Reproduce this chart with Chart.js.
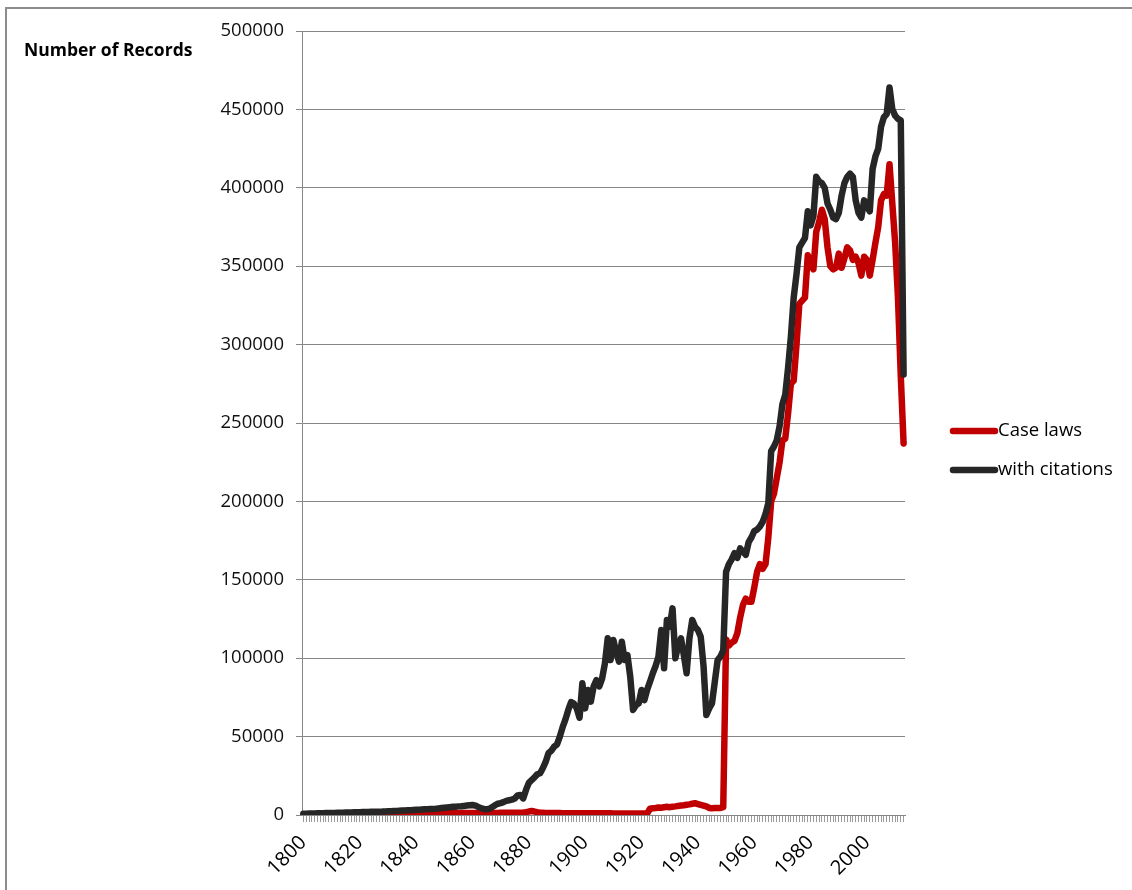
<!DOCTYPE html>
<html>
<head>
<meta charset="utf-8">
<script src="https://cdn.jsdelivr.net/npm/chart.js@4.4.1/dist/chart.umd.min.js"></script>
<style>
  html, body { margin: 0; padding: 0; background: #fff; overflow: hidden; }
  #wrap { position: relative; width: 1132px; height: 890px; overflow: hidden; }
  #lineTop { position: absolute; left: 5px; top: 7px; width: 1127px; height: 2px; background: #8c8c8c; }
  #lineLeft { position: absolute; left: 5px; top: 7px; width: 2px; height: 883px; background: #8c8c8c; }
  #box { position: absolute; left: 0; top: 0; width: 1132px; height: 890px; }
</style>
</head>
<body>
<div id="wrap">
  <div id="lineTop"></div>
  <div id="lineLeft"></div>
  <div id="box"><canvas id="myChart"></canvas></div>
</div>
<script>
const firstYear = 1800;
const lastYear = 2013;
const years = [];
for (let y = firstYear; y <= lastYear; y++) years.push(String(y));

const yTicks = [0, 50000, 100000, 150000, 200000, 250000, 300000, 350000, 400000, 450000, 500000];

// with citations (black)
const withCitations = [
  800, 850, 900, 950, 1000, 1050, 1100, 1150, 1200, 1250,
  1300, 1350, 1400, 1450, 1500, 1550, 1600, 1650, 1700, 1750,
  1800, 1850, 1900, 1950, 2000, 2050, 2100, 2150, 2200, 2300,
  2350, 2400, 2500, 2600, 2700, 2800, 2900, 3000, 3100, 3200,
  3300, 3400, 3500, 3600, 3700, 3800, 3900, 4000, 4200, 4400,
  4600, 4800, 5000, 5200, 5300, 5500, 5600, 5800, 6000, 6200,
  6400, 6000, 5200, 4400, 3800, 3600, 4000, 5000, 6200, 7200,
  7600, 8200, 9000, 9400, 9800, 10500, 12500, 12800, 10600, 16000,
  20500, 22300, 24000, 26000, 26600, 30000, 34000, 39500, 41000, 43600,
  45000, 50000, 56000, 61000, 67000, 72000, 71000, 68000, 62000, 84000,
  68000, 79700, 72300, 82000, 86000, 82000, 87000, 96700, 112700, 98800,
  111600, 104000, 97800, 110500, 98800, 102000, 88000, 67000, 70000, 71200,
  79700, 73300, 80000, 85000, 90400, 95000, 101000, 118000, 93600, 124400,
  120100, 131800, 100000, 108000, 112700, 102000, 90400, 112700, 124400, 120000,
  118000, 113700, 95000, 63800, 68000, 71200, 85000, 98800, 101000, 105000,
  155000, 160000, 163000, 167000, 164000, 170000, 168000, 166000, 174000, 177000,
  181000, 182000, 184000, 187000, 192000, 199000, 232000, 235000, 239000, 248000,
  262000, 268000, 285000, 305000, 330000, 345000, 362000, 365000, 368000, 385000,
  376000, 382000, 407000, 404000, 403000, 400000, 390000, 386000, 381000, 380000,
  384000, 395000, 403000, 407000, 409000, 407000, 392000, 384000, 381000, 392000,
  388000, 385000, 412000, 420000, 425000, 439000, 445000, 447000, 464000, 450000,
  446000, 444000, 443000, 281000
];

// case laws (red)
const caseLaws = [
  300, 300, 300, 350, 350, 350, 400, 400, 400, 450,
  450, 450, 500, 500, 500, 550, 550, 550, 600, 600,
  600, 650, 650, 650, 700, 700, 700, 750, 750, 750,
  800, 800, 850, 850, 900, 900, 950, 950, 1000, 1000,
  1000, 1050, 1050, 1100, 1100, 1100, 1150, 1150, 1200, 1200,
  1200, 1200, 1250, 1250, 1250, 1300, 1300, 1300, 1300, 1350,
  1350, 1350, 1300, 1300, 1250, 1250, 1300, 1300, 1350, 1350,
  1400, 1400, 1400, 1450, 1450, 1500, 1500, 1500, 1600, 1800,
  2200, 2500, 2200, 1800, 1500, 1400, 1300, 1300, 1200, 1200,
  1200, 1200, 1150, 1150, 1100, 1100, 1100, 1100, 1100, 1100,
  1100, 1100, 1100, 1100, 1050, 1050, 1050, 1050, 1050, 1050,
  1000, 1000, 1000, 1000, 1000, 1000, 1000, 1000, 1000, 1000,
  1000, 1000, 1000, 4000, 4300, 4500, 4800, 4600, 5000, 5200,
  5000, 5300, 5500, 5800, 6000, 6200, 6500, 6800, 7200, 7500,
  7000, 6500, 6000, 5500, 4500, 4300, 4400, 4400, 4500, 5000,
  112000, 108000, 110000, 111000, 116000, 126000, 134000, 138000, 136000, 136000,
  145000, 155000, 160000, 157000, 160000, 177000, 200000, 205000, 215000, 225000,
  239000, 240000, 256000, 275000, 277000, 300000, 326000, 328000, 330000, 357000,
  352000, 348000, 372000, 378000, 386000, 380000, 362000, 350000, 348000, 349000,
  358000, 349000, 355000, 362000, 360000, 354000, 356000, 352000, 344000, 356000,
  354000, 344000, 354000, 365000, 375000, 392000, 396000, 395000, 415000, 390000,
  365000, 330000, 280000, 237000
];

const fontFamily = "'Open Sans', 'Noto Sans', sans-serif";
const gridGray = '#868686';

// y title and legend drawn at fixed spots like the original
const extras = {
  id: 'extras',
  afterDraw(chart) {
    const ctx = chart.ctx;
    ctx.save();
    ctx.fillStyle = '#000';
    ctx.font = "bold 17.5px " + fontFamily;
    ctx.textBaseline = 'alphabetic';
    ctx.textAlign = 'left';
    ctx.fillText('Number of Records', 24, 56);

    ctx.font = "18.5px " + fontFamily;
    ctx.textBaseline = 'middle';
    chart.data.datasets.forEach(function(ds, i) {
      const y = 431 + i * 39;
      ctx.strokeStyle = ds.borderColor;
      ctx.lineWidth = 6.5;
      ctx.lineCap = 'round';
      ctx.beginPath();
      ctx.moveTo(953, y);
      ctx.lineTo(995, y);
      ctx.stroke();
      ctx.fillStyle = '#000';
      ctx.fillText(ds.label, 998, y);
    });
    ctx.restore();
  }
};

document.addEventListener('DOMContentLoaded', function() {
  const ctx = document.getElementById('myChart').getContext('2d');
  new Chart(ctx, {
    type: 'line',
    data: {
      labels: years,
      datasets: [{
        label: 'Case laws',
        data: caseLaws,
        borderColor: '#c00000',
        backgroundColor: '#c00000',
        borderWidth: 6.5,
        pointRadius: 0,
        tension: 0,
        borderJoinStyle: 'round',
        borderCapStyle: 'round',
        order: 2
      }, {
        label: 'with citations',
        data: withCitations,
        borderColor: '#262626',
        backgroundColor: '#262626',
        borderWidth: 6.5,
        pointRadius: 0,
        tension: 0,
        borderJoinStyle: 'round',
        borderCapStyle: 'round',
        order: 1
      }]
    },
    options: {
      responsive: true,
      maintainAspectRatio: false,
      animation: false,
      layout: { padding: { left: 0, top: 31, right: 227, bottom: 0 } },
      plugins: {
        legend: { display: false },
        tooltip: { enabled: false }
      },
      scales: {
        x: {
          offset: true,
          afterFit: function(scale) { scale.height = 75; },
          border: { color: gridGray, width: 1 },
          grid: { drawOnChartArea: false, color: '#9a9a9a', tickLength: 7 },
          ticks: {
            autoSkip: false,
            maxRotation: 45,
            minRotation: 45,
            padding: 9,
            color: '#000',
            font: { family: fontFamily, size: 20 },
            callback: function(value, index) {
              const yr = Number(years[index]);
              return yr % 20 === 0 ? years[index] : '';
            }
          }
        },
        y: {
          min: 0,
          max: 500000,
          afterFit: function(scale) { scale.width = 302; },
          afterBuildTicks: function(scale) {
            scale.ticks = yTicks.map(function(v) { return { value: v }; });
          },
          border: { color: gridGray, width: 1 },
          grid: { color: gridGray, lineWidth: 1, tickLength: 6 },
          ticks: {
            padding: 12,
            color: '#111',
            font: { family: fontFamily, size: 18.5 },
            callback: function(v) { return String(v); }
          }
        }
      }
    },
    plugins: [extras]
  });
});
</script>
</body>
</html>
